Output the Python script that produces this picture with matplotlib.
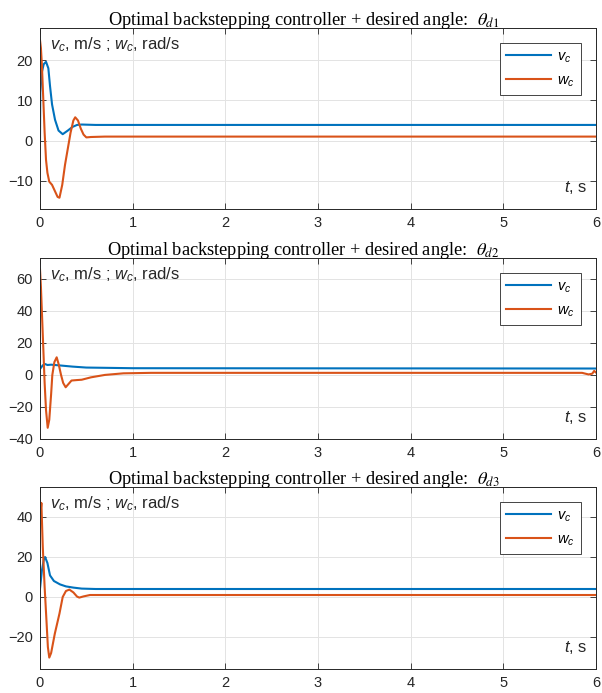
import matplotlib
matplotlib.use("Agg")
import matplotlib.pyplot as plt

plt.rcParams['font.family'] = ['Liberation Sans', 'DejaVu Sans']
plt.rcParams['mathtext.fontset'] = 'custom'
plt.rcParams['mathtext.rm'] = 'Liberation Sans'
plt.rcParams['mathtext.it'] = 'Liberation Sans:italic'

BLUE = '#0072BD'
ORANGE = '#D95319'
DARK = '#262626'

# panel 1: theta_d1
t1_v = [0, 0.003, 0.02, 0.04, 0.065, 0.09, 0.108, 0.13, 0.162, 0.2, 0.245, 0.3, 0.35, 0.4, 0.45, 0.6, 6]
v1 = [0, 12, 17, 19, 19.6, 18, 13.6, 9, 5.2, 2.5, 1.6, 2.5, 3.4, 3.9, 4.0, 3.9, 3.9]
t1_w = [0, 0.01, 0.02, 0.036, 0.05, 0.065, 0.08, 0.1, 0.13, 0.16, 0.19, 0.21, 0.24, 0.27, 0.3,
        0.33, 0.36, 0.38, 0.41, 0.44, 0.47, 0.5, 0.55, 0.7, 6]
w1 = [25, 23, 19, 10, 2, -4.8, -8, -10.2, -11, -12.5, -14, -14.2, -11, -6, -2,
      2, 5, 5.8, 5, 3, 1.5, 0.8, 0.9, 1.0, 1.0]

# panel 2: theta_d2
t2_v = [0, 0.03, 0.055, 0.08, 0.12, 0.2, 0.35, 0.5, 1.0, 6]
v2 = [3.7, 6.0, 6.8, 6.2, 6.4, 6.0, 5.2, 4.6, 4.2, 4.0]
t2_w = [0, 0.01, 0.03, 0.05, 0.065, 0.083, 0.1, 0.12, 0.133, 0.155, 0.18, 0.2, 0.227, 0.25,
        0.277, 0.31, 0.34, 0.4, 0.45, 0.55, 0.7, 0.9, 1.2, 5.85, 5.92, 5.96, 5.98, 6]
w2 = [66, 55, 25, -5, -22, -33, -28, -12, 0, 8, 11, 7, 0, -5,
      -7.7, -5.5, -3.5, -3.2, -3.0, -1.5, 0.0, 1.0, 1.3, 1.3, 0.3, 0.8, 2.5, 1.5]

# panel 3: theta_d3
t3_v = [0, 0.02, 0.04, 0.055, 0.08, 0.108, 0.15, 0.216, 0.28, 0.36, 0.45, 0.6, 6]
v3 = [4.2, 13, 18.5, 20, 17, 10.8, 8, 6.3, 5.3, 4.7, 4.2, 4.0, 4.0]
t3_w = [0, 0.005, 0.015, 0.03, 0.05, 0.07, 0.085, 0.1, 0.12, 0.16, 0.21, 0.245, 0.28,
        0.317, 0.36, 0.4, 0.424, 0.47, 0.54, 6]
w3 = [48, 42, 47, 25, 5, -12, -25, -30.3, -28, -18.3, -8.3, 0, 3,
      3.7, 2.3, 0.2, -0.3, 0.3, 1.0, 1.0]

panels = [
    (t1_v, v1, t1_w, w1, r'$\theta_{d1}$', (-17, 28), [-10, 0, 10, 20]),
    (t2_v, v2, t2_w, w2, r'$\theta_{d2}$', (-40, 73), [-40, -20, 0, 20, 40, 60]),
    (t3_v, v3, t3_w, w3, r'$\theta_{d3}$', (-36, 55), [-20, 0, 20, 40]),
]

W, H = 602, 693
fig = plt.figure(figsize=(W / 100, H / 100), dpi=100)
boxes = [(28, 209), (258, 439), (487, 669)]

for (tv, v, tw, w, th, ylim, yt), (top, bot) in zip(panels, boxes):
    ax = fig.add_axes([40 / W, 1 - bot / H, 556 / W, (bot - top) / H])
    ax.plot(tv, v, color=BLUE, lw=1.5, label=r'$v_c$')
    ax.plot(tw, w, color=ORANGE, lw=1.5, label=r'$w_c$')
    ax.set_xlim(0, 6)
    ax.set_ylim(*ylim)
    ax.set_xticks(range(7))
    ax.set_yticks(yt)
    ax.grid(True, color='#e3e3e3', lw=0.7)
    ax.set_axisbelow(True)
    ax.tick_params(direction='in', top=True, right=True, length=4, width=0.6,
                   colors=DARK, labelsize=10.5, pad=5)
    for s in ax.spines.values():
        s.set_color(DARK)
        s.set_linewidth(0.7)
    # title sits centred on the figure rather than on the axes
    ax.set_title('Optimal backstepping controller + desired angle:  ' + th,
                 family='Liberation Serif', math_fontfamily='stix',
                 fontsize=13.2, pad=2, x=0.474)
    ax.text(0.018, 0.96, r'$v_{c}$, m/s ; $w_{c}$, rad/s', transform=ax.transAxes,
            ha='left', va='top', fontsize=12, color=DARK)
    ax.text(0.985, 0.07, r'$t$, s', transform=ax.transAxes,
            ha='right', va='bottom', fontsize=12, color=DARK)
    leg = ax.legend(loc='upper right', fontsize=10.5, handlelength=3.1,
                    borderaxespad=1.0, fancybox=False, framealpha=1,
                    edgecolor=DARK, labelspacing=0.6, handletextpad=0.4,
                    borderpad=0.45)
    leg.get_frame().set_linewidth(0.6)

fig.savefig('out.png', dpi=100)
